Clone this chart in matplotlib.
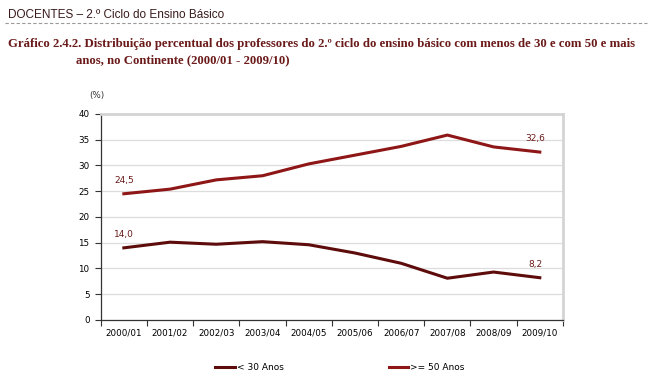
import matplotlib.pyplot as plt
import numpy as np

anos = ['2000/01', '2001/02', '2002/03', '2003/04', '2004/05',
        '2005/06', '2006/07', '2007/08', '2008/09', '2009/10']
menos30 = [14.0, 15.1, 14.7, 15.2, 14.6, 13.0, 11.0, 8.1, 9.3, 8.2]
mais50 = [24.5, 25.4, 27.2, 28.0, 30.3, 32.0, 33.7, 35.9, 33.6, 32.6]

cor30 = '#5e0b0b'
cor50 = '#8e1616'
cor_txt = '#6b1a1a'

fig = plt.figure(figsize=(6.5, 3.85), dpi=100)
ax = fig.add_axes([0.155, 0.169, 0.711, 0.535])

x = np.arange(len(anos))
l1, = ax.plot(x, menos30, color=cor30, lw=2.2, label='< 30 Anos')
l2, = ax.plot(x, mais50, color=cor50, lw=2.2, label='>= 50 Anos')

ax.set_xlim(-0.5, len(anos) - 0.5)
ax.set_ylim(0, 40)
ax.set_yticks(range(0, 41, 5))
ax.set_xticks(np.arange(-0.5, len(anos), 1))
ax.set_xticklabels([])
ax.set_xticks(x, minor=True)
ax.set_xticklabels(anos, minor=True)
ax.tick_params(axis='x', which='minor', length=0, pad=6, labelsize=6.3)
ax.tick_params(axis='x', which='major', length=4, color='#333333')
ax.tick_params(axis='y', length=4, color='#333333', labelsize=6.3, pad=4)
ax.grid(axis='y', color='#dddddd', lw=0.9)
ax.set_axisbelow(True)

for s in ['top', 'right']:
    ax.spines[s].set_color('#d4d4d4')
    ax.spines[s].set_linewidth(2)
for s in ['left', 'bottom']:
    ax.spines[s].set_color('#333333')
    ax.spines[s].set_linewidth(0.9)

def fmt(v):
    return ('%.1f' % v).replace('.', ',')

ax.annotate(fmt(mais50[0]), (x[0], mais50[0]), xytext=(0, 8), textcoords='offset points',
            ha='center', fontsize=6.5, color=cor_txt)
ax.annotate(fmt(menos30[0]), (x[0], menos30[0]), xytext=(0, 8), textcoords='offset points',
            ha='center', fontsize=6.5, color=cor_txt)
ax.annotate(fmt(mais50[-1]), (x[-1], mais50[-1]), xytext=(-3, 8), textcoords='offset points',
            ha='center', fontsize=6.5, color=cor_txt)
ax.annotate(fmt(menos30[-1]), (x[-1], menos30[-1]), xytext=(-3, 8), textcoords='offset points',
            ha='center', fontsize=6.5, color=cor_txt)

fig.text(0.149, 0.745, '(%)', fontsize=6.3, ha='center', color='#333333')

# cabecalho
fig.text(0.012, 0.962, 'DOCENTES \u2013 2.\u00ba Ciclo do Ensino B\u00e1sico', fontsize=8.5,
         color='#3a1a1a', family='Liberation Sans', va='center')
fig.add_artist(plt.Line2D([0.008, 0.995], [0.94, 0.94], color='#999999', lw=0.8,
                          ls=(0, (3, 2))))
fig.text(0.012, 0.886, 'Gr\u00e1fico 2.4.2. Distribui\u00e7\u00e3o percentual dos professores do 2.\u00ba ciclo '
         'do ensino b\u00e1sico com menos de 30 e com 50 e mais', fontsize=9.2, weight='bold',
         color=cor_txt, family='Liberation Serif', va='center')
fig.text(0.117, 0.843, 'anos, no Continente (2000/01 - 2009/10)', fontsize=9.2, weight='bold',
         color=cor_txt, family='Liberation Serif', va='center')

fig.legend(handles=[l1, l2], loc='center', bbox_to_anchor=(0.523, 0.045), ncol=2,
           frameon=False, fontsize=6.5, handlelength=2.2, handletextpad=0.2,
           columnspacing=11.6)

fig.savefig('out.png', dpi=100)
